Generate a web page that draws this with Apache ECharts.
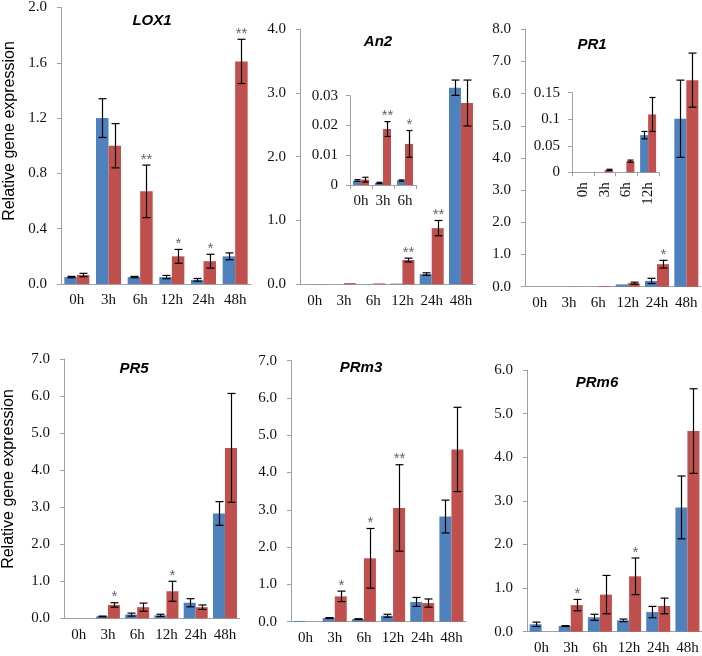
<!DOCTYPE html>
<html><head><meta charset="utf-8">
<script src="https://cdn.jsdelivr.net/npm/echarts@6/dist/echarts.min.js"></script>
<style>html,body{margin:0;padding:0;background:#fff}#c{width:702px;height:656px}</style>
</head><body><div id="c"></div>
<script>
// ---------- data ----------
const hours = ['0h', '3h', '6h', '12h', '24h', '48h'];
const insetHoursAn2 = ['0h', '3h', '6h'];
const insetHoursPR1 = ['0h', '3h', '6h', '12h'];

const lox1Ctrl = [0.05, 1.20, 0.05, 0.05, 0.03, 0.20];
const lox1CtrlErr = [0.005, 0.14, 0.005, 0.012, 0.01, 0.025];
const lox1Trt = [0.065, 1.00, 0.67, 0.20, 0.165, 1.61];
const lox1TrtErr = [0.012, 0.16, 0.19, 0.05, 0.05, 0.16];
const lox1Stars = ['', '', '**', '*', '*', '**'];

const an2Ctrl = [0.0015, 0.0007, 0.0015, 0.01, 0.16, 3.08];
const an2CtrlErr = [0.0003, 0.0002, 0.0002, 0.003, 0.02, 0.12];
const an2Trt = [0.0018, 0.0188, 0.0138, 0.38, 0.88, 2.84];
const an2TrtErr = [0.0008, 0.0025, 0.0045, 0.03, 0.12, 0.36];
const an2Stars = ['', '', '', '**', '**', ''];
const an2InsetStars = ['', '**', '*'];

const pr1Ctrl = [0, 0, 0, 0.070, 0.18, 5.22];
const pr1CtrlErr = [0, 0, 0, 0.007, 0.08, 1.2];
const pr1Trt = [0, 0.0045, 0.021, 0.109, 0.70, 6.42];
const pr1TrtErr = [0, 0.0012, 0.002, 0.032, 0.12, 0.84];
const pr1Stars = ['', '', '', '', '*', ''];
const pr1InsetStars = ['', '', '', ''];

const pr5Ctrl = [0, 0.05, 0.10, 0.08, 0.42, 2.83];
const pr5CtrlErr = [0, 0.01, 0.04, 0.03, 0.11, 0.32];
const pr5Trt = [0, 0.36, 0.30, 0.73, 0.30, 4.60];
const pr5TrtErr = [0, 0.06, 0.11, 0.27, 0.06, 1.47];
const pr5Stars = ['', '*', '', '*', '', ''];

const prm3Ctrl = [0.02, 0.10, 0.07, 0.16, 0.53, 2.82];
const prm3CtrlErr = [0.005, 0.01, 0.01, 0.04, 0.12, 0.44];
const prm3Trt = [0, 0.68, 1.70, 3.05, 0.50, 4.62];
const prm3TrtErr = [0, 0.14, 0.80, 1.16, 0.11, 1.13];
const prm3Stars = ['', '*', '*', '**', '', ''];

const prm6Ctrl = [0.17, 0.13, 0.33, 0.26, 0.45, 2.85];
const prm6CtrlErr = [0.05, 0.01, 0.07, 0.03, 0.13, 0.72];
const prm6Trt = [0, 0.61, 0.85, 1.27, 0.59, 4.60];
const prm6TrtErr = [0, 0.13, 0.44, 0.42, 0.18, 0.97];
const prm6Stars = ['', '*', '', '*', '', ''];

// ---------- styling ----------
const BLUE = '#4F81BD', RED = '#C0504D', AXIS = '#a0a0a0';
const SERIF = '"Liberation Serif", "Times New Roman", serif';
const SANS = '"Liberation Sans", Arial, sans-serif';

// panel definitions (layout)
const panels = [
  {name:'LOX1', grid:{left:61, top:7.3, width:190, height:276.7}, max:2.0, interval:0.4, dec:1, cats:hours,
   ctrl:lox1Ctrl, ctrlErr:lox1CtrlErr, trt:lox1Trt, trtErr:lox1TrtErr, stars:lox1Stars, bw:12.5, cap:4, main:true, title:[152,21]},
  {name:'An2', grid:{left:300, top:29, width:175.6, height:255.3}, max:4, interval:1, dec:1, cats:hours,
   ctrl:an2Ctrl, ctrlErr:an2CtrlErr, trt:an2Trt, trtErr:an2TrtErr, stars:an2Stars, bw:12, cap:4, main:true, title:[378,42]},
  {name:'PR1', grid:{left:525, top:29.3, width:176, height:257.4}, max:8, interval:1, dec:1, cats:hours,
   ctrl:pr1Ctrl, ctrlErr:pr1CtrlErr, trt:pr1Trt, trtErr:pr1TrtErr, stars:pr1Stars, bw:12, cap:4, main:true, title:[592,45]},
  {name:'PR5', grid:{left:64, top:359, width:175.6, height:259.3}, max:7, interval:1, dec:1, cats:hours,
   ctrl:pr5Ctrl, ctrlErr:pr5CtrlErr, trt:pr5Trt, trtErr:pr5TrtErr, stars:pr5Stars, bw:12, cap:4, main:true, title:[134,369]},
  {name:'PRm3', grid:{left:291, top:360.7, width:175, height:261}, max:7, interval:1, dec:1, cats:hours,
   ctrl:prm3Ctrl, ctrlErr:prm3CtrlErr, trt:prm3Trt, trtErr:prm3TrtErr, stars:prm3Stars, bw:12, cap:4, main:true, title:[361,368]},
  {name:'PRm6', grid:{left:527, top:370, width:175, height:261.7}, max:6, interval:1, dec:1, cats:hours,
   ctrl:prm6Ctrl, ctrlErr:prm6CtrlErr, trt:prm6Trt, trtErr:prm6TrtErr, stars:prm6Stars, bw:12, cap:4, main:true, title:[597,383]},
  {name:'An2 inset', grid:{left:350, top:95.7, width:66, height:89.3}, max:0.03, interval:0.01, dec:-1, cats:insetHoursAn2,
   ctrl:an2Ctrl.slice(0,3), ctrlErr:an2CtrlErr.slice(0,3), trt:an2Trt.slice(0,3), trtErr:an2TrtErr.slice(0,3), stars:an2InsetStars, bw:8, cap:3, main:false},
  {name:'PR1 inset', grid:{left:572, top:92.7, width:87, height:79.6}, max:0.15, interval:0.05, dec:-1, cats:insetHoursPR1,
   ctrl:pr1Ctrl.slice(0,4), ctrlErr:pr1CtrlErr.slice(0,4), trt:pr1Trt.slice(0,4), trtErr:pr1TrtErr.slice(0,4), stars:pr1InsetStars, bw:8, cap:3, main:false, rotate:90}
];

function errSeries(k, vals, errs, stars, side, bw, cap) {
  return {
    type:'custom', xAxisIndex:k, yAxisIndex:k, coordinateSystem:'cartesian2d', clip:false, z:5, silent:true,
    data: vals.map((v, i) => [i, v, errs[i]]),
    renderItem: function (params, api) {
      const i = api.value(0), v = api.value(1), e = api.value(2);
      const base = api.coord([i, v]);
      const x = Math.round(base[0] + side * bw / 2) + 0.5;
      const top = api.coord([i, v + e])[1];
      const bot = api.coord([i, v - e])[1];
      const st = {stroke:'#000', lineWidth:1.2};
      const ch = [];
      if (e > 0 && (bot - top) > 0.6) {
        ch.push({type:'line', shape:{x1:x, y1:top, x2:x, y2:bot}, style:st});
        ch.push({type:'line', shape:{x1:x-cap, y1:top, x2:x+cap, y2:top}, style:st});
        ch.push({type:'line', shape:{x1:x-cap, y1:bot, x2:x+cap, y2:bot}, style:st});
      }
      const s = stars[i];
      if (s) {
        ch.push({type:'text', x:x, y:top + 2, style:{text:s, align:'center', verticalAlign:'bottom',
          fill:'#666', font:'15px ' + SANS}});
      }
      return {type:'group', children:ch};
    }
  };
}

const grids = [], xAxes = [], yAxes = [], series = [], graphics = [];
panels.forEach((p, k) => {
  grids.push(Object.assign({containLabel:false}, p.grid));
  xAxes.push({
    type:'category', gridIndex:k, data:p.cats,
    axisLine:{show:true, lineStyle:{color:AXIS, width:1}},
    axisTick:{show:!p.main, length:4, alignWithLabel:false, lineStyle:{color:AXIS}},
    axisLabel:{color:'#111', fontFamily:SERIF, fontSize:15, margin:p.main ? 9 : (p.rotate ? 10 : 9),
      rotate:p.rotate || 0, interval:0},
    splitLine:{show:false}
  });
  yAxes.push({
    type:'value', gridIndex:k, min:0, max:p.max, interval:p.interval,
    axisLine:{show:true, lineStyle:{color:AXIS, width:1}},
    axisTick:{show:true, length:4, inside:false, lineStyle:{color:AXIS}},
    axisLabel:{color:'#111', fontFamily:SERIF, fontSize:15, margin:p.main ? 14 : 12,
      formatter: p.dec > 0 ? (v => v.toFixed(p.dec)) : (v => String(+v.toFixed(4)))},
    splitLine:{show:false}
  });
  series.push({type:'bar', xAxisIndex:k, yAxisIndex:k, data:p.ctrl, barWidth:p.bw, barGap:'0%',
    itemStyle:{color:BLUE}, silent:true});
  series.push({type:'bar', xAxisIndex:k, yAxisIndex:k, data:p.trt, barWidth:p.bw, barGap:'0%',
    itemStyle:{color:RED}, silent:true});
  series.push(errSeries(k, p.ctrl, p.ctrlErr, p.cats.map(() => ''), -1, p.bw, p.cap));
  series.push(errSeries(k, p.trt, p.trtErr, p.stars, 1, p.bw, p.cap));
  if (p.title) {
    graphics.push({type:'text', x:p.title[0], y:p.title[1], z:10,
      style:{text:p.name, align:'center', verticalAlign:'middle', fill:'#000',
        font:'italic bold 15px ' + SANS}});
  }
});

const yLabel = 'Relative gene expression';
graphics.push({type:'text', x:9.5, y:131, rotation:Math.PI/2,
  style:{text:yLabel, align:'center', verticalAlign:'middle', fill:'#000', font:'16px ' + SANS}});
graphics.push({type:'text', x:8.5, y:479, rotation:Math.PI/2,
  style:{text:yLabel, align:'center', verticalAlign:'middle', fill:'#000', font:'16px ' + SANS}});

const chart = echarts.init(document.getElementById('c'), null, {renderer:'canvas'});
chart.setOption({
  animation:false,
  backgroundColor:'#fff',
  grid:grids, xAxis:xAxes, yAxis:yAxes, series:series, graphic:graphics
});
</script>
</body></html>
